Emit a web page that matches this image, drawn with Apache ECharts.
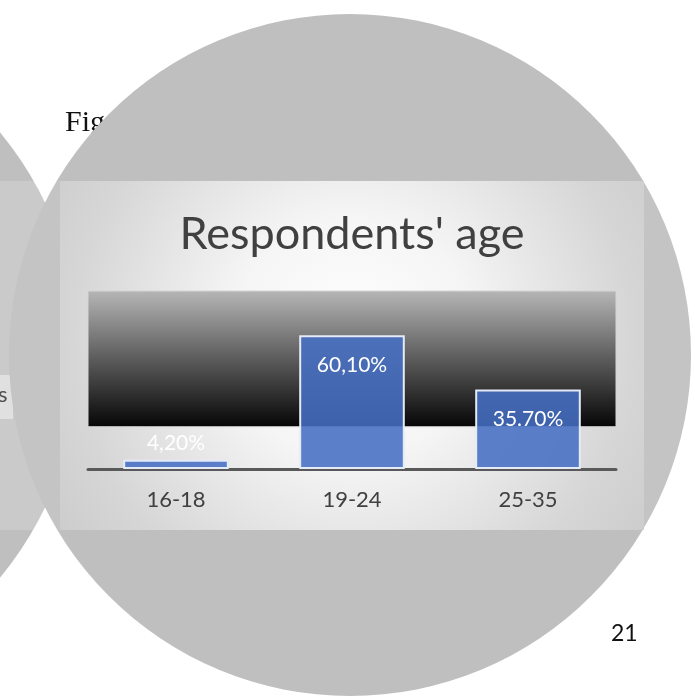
<!DOCTYPE html>
<html>
<head>
<meta charset="utf-8">
<script src="https://cdn.jsdelivr.net/npm/echarts@6/dist/echarts.min.js"></script>
<style>
  html, body { margin: 0; padding: 0; background: #fff; }
  #chart { width: 695px; height: 698px; }
</style>
</head>
<body>
<div id="chart"></div>
<script>
// data
const ageGroups = ['16-18', '19-24', '25-35'];
const shares = [4.2, 60.1, 35.7];
const shareLabels = ['4,20%', '60,10%', '35.70%'];
const yTicks = [0, 80];          // value range of the (hidden) y axis
const darkBand = [19, 80];       // dark gradient band behind the bars

const font = 'Lato, "Open Sans", sans-serif';

let chart = echarts.init(document.getElementById('chart'), null, { renderer: 'canvas' });

let option = {
  backgroundColor: '#fff',
  animation: false,
  title: {
    text: "Respondents' age",
    left: 347,
    top: 207,
    textAlign: 'center',
    textStyle: { color: '#404040', fontSize: 45, fontWeight: 'normal', fontFamily: font }
  },
  graphic: [
    // left lens (other chart)
    { type: 'circle', z: -10, shape: { cx: -270, cy: 355, r: 350 }, style: { fill: '#bfbfbf' } },
    { type: 'rect', z: -9, shape: { x: 0, y: 181, width: 695, height: 349 }, style: { fill: 'rgba(255,255,255,0.12)' } },
    { type: 'rect', z: -9, shape: { x: -5, y: 375, width: 18, height: 44 }, style: { fill: '#dedede' } },
    { type: 'text', z: -9, x: -2, y: 384, style: { text: 's', fontSize: 22, fontFamily: font, fill: '#404040' } },
    // document text under the lens
    { type: 'text', z: -9, x: 65, y: 108, style: { text: 'Fig', fontSize: 30, fontFamily: '"Liberation Serif", serif', fill: '#111' } },
    // big lens
    { type: 'circle', z: -8, shape: { cx: 350, cy: 355, r: 341 }, style: { fill: '#bfbfbf' } },
    { type: 'rect', z: -7, shape: { x: 0, y: 181, width: 695, height: 349 }, style: { fill: 'rgba(255,255,255,0.08)' } },
    // chart panel
    {
      type: 'rect', z: -6,
      shape: { x: 60, y: 181, width: 584, height: 349 },
      style: {
        fill: {
          type: 'radial', x: 0.5, y: 0.45, r: 1.0,
          colorStops: [
            { offset: 0, color: '#ffffff' },
            { offset: 0.35, color: '#f5f5f5' },
            { offset: 0.8, color: '#d6d6d6' },
            { offset: 1, color: '#cdcdcd' }
          ]
        }
      }
    },
    // page number
    { type: 'text', z: -9, x: 611, y: 622, style: { text: '21', fontSize: 23, fontFamily: font, fill: '#111' } }
  ],
  grid: {
    left: 88,
    right: 79,
    top: 291,
    bottom: 229
  },
  xAxis: {
    type: 'category',
    data: ageGroups,
    axisLine: { show: true, lineStyle: { color: '#595959', width: 3 } },
    axisTick: { show: false },
    axisLabel: { color: '#404040', fontSize: 22, fontFamily: font, margin: 20 },
    splitLine: { show: false }
  },
  yAxis: {
    type: 'value',
    min: yTicks[0],
    max: yTicks[yTicks.length - 1],
    show: false,
    splitLine: { show: false }
  },
  series: [
    {
      type: 'bar',
      barWidth: '60%',
      data: shares.map((v, i) => ({
        value: v,
        label: {
          show: true,
          formatter: shareLabels[i],
          position: v < 10 ? 'top' : 'insideTop',
          distance: v < 10 ? 6 : 19
        }
      })),
      itemStyle: {
        color: 'rgba(69,110,195,0.88)',
        borderColor: '#e4eaf6',
        borderWidth: 2
      },
      label: { color: '#fff', fontSize: 21, fontFamily: font },
      markArea: {
        silent: true,
        itemStyle: {
          color: {
            type: 'linear', x: 0, y: 0, x2: 0, y2: 1,
            colorStops: [
              { offset: 0, color: '#b6b6b6' },
              { offset: 0.5, color: '#5c5c5c' },
              { offset: 1, color: '#050505' }
            ]
          },
          borderColor: '#d4d4d4',
          borderWidth: 1
        },
        data: [[{ yAxis: darkBand[0] }, { yAxis: darkBand[1] }]]
      }
    }
  ]
};

chart.setOption(option);
</script>
</body>
</html>
